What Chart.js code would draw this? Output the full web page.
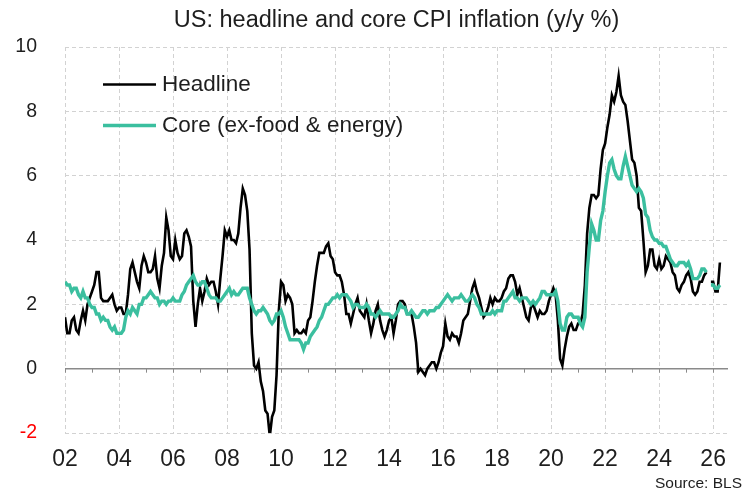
<!DOCTYPE html>
<html>
<head>
<meta charset="utf-8">
<script src="https://cdn.jsdelivr.net/npm/chart.js@4/dist/chart.umd.min.js"></script>
<style>
  html, body { margin: 0; padding: 0; background: #fff; }
  #wrap { width: 744px; height: 495px; position: relative; }
</style>
</head>
<body>
<div id="wrap"><canvas id="c" width="744" height="495"></canvas></div>
<script>
// ---- data (monthly, y/y %), first observation Dec 2001 ----
const firstYear = 2001;
const firstMonth = 12;
const headline = [
  1.6,
  1.1, 1.1, 1.5, 1.6, 1.2, 1.1, 1.5, 1.8, 1.5, 2.0, 2.2, 2.4,
  2.6, 3.0, 3.0, 2.2, 2.1, 2.1, 2.1, 2.2, 2.3, 2.0, 1.8, 1.9,
  1.9, 1.7, 1.7, 2.3, 3.1, 3.3, 3.0, 2.7, 2.5, 3.2, 3.5, 3.3,
  3.0, 3.0, 3.1, 3.5, 2.8, 2.5, 3.2, 3.6, 4.7, 4.3, 3.5, 3.4,
  4.0, 3.6, 3.4, 3.5, 4.2, 4.3, 4.1, 3.8, 2.1, 1.3, 2.0, 2.5,
  2.1, 2.4, 2.8, 2.6, 2.7, 2.7, 2.4, 2.0, 2.8, 3.5, 4.3, 4.1,
  4.3, 4.0, 4.0, 3.9, 4.2, 5.0, 5.6, 5.4, 4.9, 3.7, 1.1, 0.1,
  0.0, 0.2, -0.4, -0.7, -1.3, -1.4, -2.1, -1.5, -1.3, -0.2, 1.8, 2.7,
  2.6, 2.1, 2.3, 2.2, 2.0, 1.1, 1.2, 1.1, 1.1, 1.2, 1.1, 1.5,
  1.6, 2.1, 2.7, 3.2, 3.6, 3.6, 3.6, 3.8, 3.9, 3.5, 3.4, 3.0,
  2.9, 2.9, 2.7, 2.3, 1.7, 1.7, 1.4, 1.7, 2.0, 2.2, 1.8, 1.7,
  1.6, 2.0, 1.5, 1.1, 1.4, 1.8, 2.0, 1.5, 1.2, 1.0, 1.2, 1.5,
  1.6, 1.1, 1.5, 2.0, 2.1, 2.1, 2.0, 1.7, 1.7, 1.7, 1.3, 0.8,
  -0.1, 0.0, -0.1, -0.2, 0.0, 0.1, 0.2, 0.2, 0.0, 0.2, 0.5, 0.7,
  1.4, 1.0, 0.9, 1.1, 1.0, 1.0, 0.8, 1.1, 1.5, 1.6, 1.7, 2.1,
  2.5, 2.7, 2.4, 2.2, 1.9, 1.6, 1.7, 1.9, 2.2, 2.0, 2.2, 2.1,
  2.1, 2.2, 2.4, 2.5, 2.8, 2.9, 2.9, 2.7, 2.3, 2.5, 2.2, 1.9,
  1.6, 1.5, 1.9, 2.0, 1.8, 1.6, 1.8, 1.7, 1.7, 1.8, 2.1, 2.3,
  2.5, 2.3, 1.5, 0.3, 0.1, 0.6, 1.0, 1.3, 1.4, 1.2, 1.2, 1.4,
  1.4, 1.7, 2.6, 4.2, 5.0, 5.4, 5.4, 5.3, 5.4, 6.2, 6.8, 7.0,
  7.5, 7.9, 8.5, 8.3, 8.6, 9.1, 8.5, 8.3, 8.2, 7.7, 7.1, 6.5,
  6.4, 6.0, 5.0, 4.9, 4.0, 3.0, 3.2, 3.7, 3.7, 3.2, 3.1, 3.4,
  3.1, 3.2, 3.5, 3.4, 3.3, 3.0, 2.9, 2.5, 2.4, 2.6, 2.7, 2.9,
  3.0, 2.8, 2.4, 2.3, 2.4, 2.7, 2.7, 2.9, 3.0, null, 2.7, 2.7,
  2.4, 2.4, 3.3
];
const core = [
  2.7,
  2.6, 2.6, 2.4, 2.5, 2.5, 2.3, 2.2, 2.4, 2.2, 2.2, 2.0, 1.9,
  1.9, 1.7, 1.7, 1.5, 1.6, 1.5, 1.5, 1.3, 1.2, 1.3, 1.1, 1.1,
  1.1, 1.2, 1.6, 1.8, 1.7, 1.9, 1.8, 1.7, 2.0, 2.0, 2.2, 2.2,
  2.3, 2.4, 2.3, 2.2, 2.2, 2.0, 2.1, 2.1, 2.0, 2.1, 2.1, 2.2,
  2.1, 2.1, 2.1, 2.3, 2.4, 2.6, 2.7, 2.8, 2.9, 2.7, 2.6, 2.6,
  2.7, 2.7, 2.5, 2.3, 2.2, 2.2, 2.2, 2.1, 2.1, 2.2, 2.3, 2.4,
  2.5, 2.3, 2.4, 2.3, 2.3, 2.4, 2.5, 2.5, 2.5, 2.2, 2.0, 1.8,
  1.7, 1.8, 1.8, 1.9, 1.8, 1.7, 1.5, 1.4, 1.5, 1.7, 1.7, 1.8,
  1.6, 1.3, 1.1, 0.9, 0.9, 0.9, 0.9, 0.9, 0.8, 0.6, 0.8, 0.8,
  1.0, 1.1, 1.2, 1.3, 1.5, 1.6, 1.8, 2.0, 2.0, 2.1, 2.2, 2.2,
  2.3, 2.2, 2.3, 2.3, 2.3, 2.2, 2.1, 1.9, 2.0, 2.0, 1.9, 1.9,
  1.9, 2.0, 1.9, 1.7, 1.7, 1.6, 1.7, 1.8, 1.7, 1.7, 1.7, 1.7,
  1.6, 1.6, 1.7, 1.8, 2.0, 1.9, 1.9, 1.7, 1.7, 1.8, 1.7, 1.6,
  1.6, 1.7, 1.8, 1.8, 1.7, 1.8, 1.8, 1.8, 1.9, 1.9, 2.0, 2.1,
  2.2, 2.3, 2.2, 2.1, 2.2, 2.2, 2.2, 2.3, 2.2, 2.1, 2.1, 2.2,
  2.3, 2.2, 2.0, 1.9, 1.7, 1.7, 1.7, 1.7, 1.7, 1.8, 1.7, 1.8,
  1.8, 1.8, 2.1, 2.1, 2.2, 2.3, 2.4, 2.2, 2.2, 2.1, 2.2, 2.2,
  2.2, 2.1, 2.0, 2.1, 2.0, 2.1, 2.2, 2.4, 2.4, 2.3, 2.3, 2.3,
  2.3, 2.4, 2.1, 1.4, 1.2, 1.2, 1.6, 1.7, 1.7, 1.6, 1.6, 1.6,
  1.4, 1.3, 1.6, 3.0, 3.8, 4.5, 4.3, 4.0, 4.0, 4.6, 4.9, 5.5,
  6.0, 6.4, 6.5, 6.2, 6.0, 5.9, 5.9, 6.3, 6.6, 6.3, 6.0, 5.7,
  5.6, 5.5, 5.6, 5.5, 5.3, 4.8, 4.7, 4.3, 4.1, 4.0, 4.0, 3.9,
  3.9, 3.8, 3.8, 3.6, 3.4, 3.3, 3.2, 3.2, 3.3, 3.3, 3.3, 3.2,
  3.3, 3.1, 2.8, 2.8, 2.8, 2.9, 3.1, 3.1, 3.0, null, 2.6, 2.6,
  2.5, 2.5, 2.6
];
const tickYears = [2002, 2004, 2006, 2008, 2010, 2012, 2014, 2016, 2018, 2020, 2022, 2024, 2026];
const tickLabels = ['02', '04', '06', '08', '10', '12', '14', '16', '18', '20', '22', '24', '26'];
const yTicks = [-2, 0, 2, 4, 6, 8, 10];
const seriesNames = ['Headline', 'Core (ex-food & energy)'];
const titleText = 'US: headline and core CPI inflation (y/y %)';
const sourceText = 'Source: BLS';

// x position of each monthly observation (fractional years)
const xOf = i => (firstYear + firstMonth / 12) + i / 12;
const toPts = arr => arr.map((v, i) => ({ x: xOf(i), y: v }));

const FONT = '"Liberation Sans", Arial, sans-serif';
const TEXT = '#1e1e1e';
const BLACK = '#000000';
const TEAL = '#3bbf9f';
const GRID = '#d2d2d2';

const decor = {
  id: 'decor',
  beforeDatasetsDraw(chart) {
    const { ctx, chartArea, scales } = chart;
    const y0 = scales.y.getPixelForValue(0);
    ctx.save();
    ctx.strokeStyle = '#8a8a8a';
    ctx.lineWidth = 1.5;
    ctx.beginPath();
    ctx.moveTo(chartArea.left, y0);
    ctx.lineTo(chartArea.right, y0);
    ctx.stroke();
    ctx.lineWidth = 1;
    for (let yr = tickYears[0]; yr <= tickYears[tickYears.length - 1]; yr++) {
      const x = Math.round(scales.x.getPixelForValue(yr)) + 0.5;
      ctx.beginPath();
      ctx.moveTo(x, y0);
      ctx.lineTo(x, y0 + 4);
      ctx.stroke();
    }
    ctx.restore();
  },
  afterDraw(chart) {
    const { ctx, chartArea } = chart;
    ctx.save();
    // title
    ctx.fillStyle = TEXT;
    ctx.font = '23.5px ' + FONT;
    ctx.textAlign = 'center';
    ctx.textBaseline = 'alphabetic';
    ctx.fillText(titleText, (chartArea.left + chartArea.right) / 2, 27);
    // legend
    const items = [[BLACK, 2.6, 84.5], [TEAL, 3.6, 125.5]];
    ctx.font = '22.5px ' + FONT;
    ctx.textAlign = 'left';
    items.forEach((it, k) => {
      ctx.strokeStyle = it[0];
      ctx.lineWidth = it[1];
      ctx.beginPath();
      ctx.moveTo(103, it[2]);
      ctx.lineTo(156, it[2]);
      ctx.stroke();
      ctx.fillStyle = TEXT;
      ctx.fillText(seriesNames[k], 162, it[2] + 6);
    });
    // source
    ctx.font = '15.5px ' + FONT;
    ctx.textAlign = 'right';
    ctx.fillText(sourceText, 742, 488);
    ctx.restore();
  }
};

new Chart(document.getElementById('c'), {
  type: 'line',
  data: {
    datasets: [
      {
        label: seriesNames[1],
        data: toPts(core),
        borderColor: TEAL,
        borderWidth: 3.4,
        pointRadius: 0,
        tension: 0,
        spanGaps: false,
        order: 0
      },
      {
        label: seriesNames[0],
        data: toPts(headline),
        borderColor: BLACK,
        borderWidth: 2.6,
        pointRadius: 0,
        tension: 0,
        spanGaps: false,
        order: 1
      }
    ]
  },
  options: {
    responsive: false,
    animation: false,
    events: [],
    layout: { padding: { top: 47, right: 16, bottom: 0, left: 0 } },
    plugins: { legend: { display: false }, title: { display: false }, tooltip: { enabled: false } },
    scales: {
      x: {
        type: 'linear',
        min: 2002,
        max: 2026.55,
        afterBuildTicks: s => { s.ticks = tickYears.map(v => ({ value: v })); },
        afterFit: s => { s.height = 62; },
        grid: { color: GRID, lineWidth: 1, drawTicks: false },
        border: { display: false, dash: [4, 3] },
        ticks: {
          padding: 13,
          maxRotation: 0,
          autoSkip: false,
          color: TEXT,
          font: { family: FONT, size: 23 },
          callback: v => tickLabels[tickYears.indexOf(v)]
        }
      },
      y: {
        min: -2,
        max: 10,
        afterBuildTicks: s => { s.ticks = yTicks.map(v => ({ value: v })); },
        afterFit: s => { s.width = 65; },
        grid: {
          color: c => (c.tick && c.tick.value === 0 ? 'rgba(0,0,0,0)' : GRID),
          lineWidth: 1,
          drawTicks: false
        },
        border: { display: false, dash: [4, 3] },
        ticks: {
          padding: 28,
          color: c => (c.tick.value < 0 ? '#ff0000' : TEXT),
          font: { family: FONT, size: 19.5 },
          callback: v => String(v)
        }
      }
    }
  },
  plugins: [decor]
});
</script>
</body>
</html>
